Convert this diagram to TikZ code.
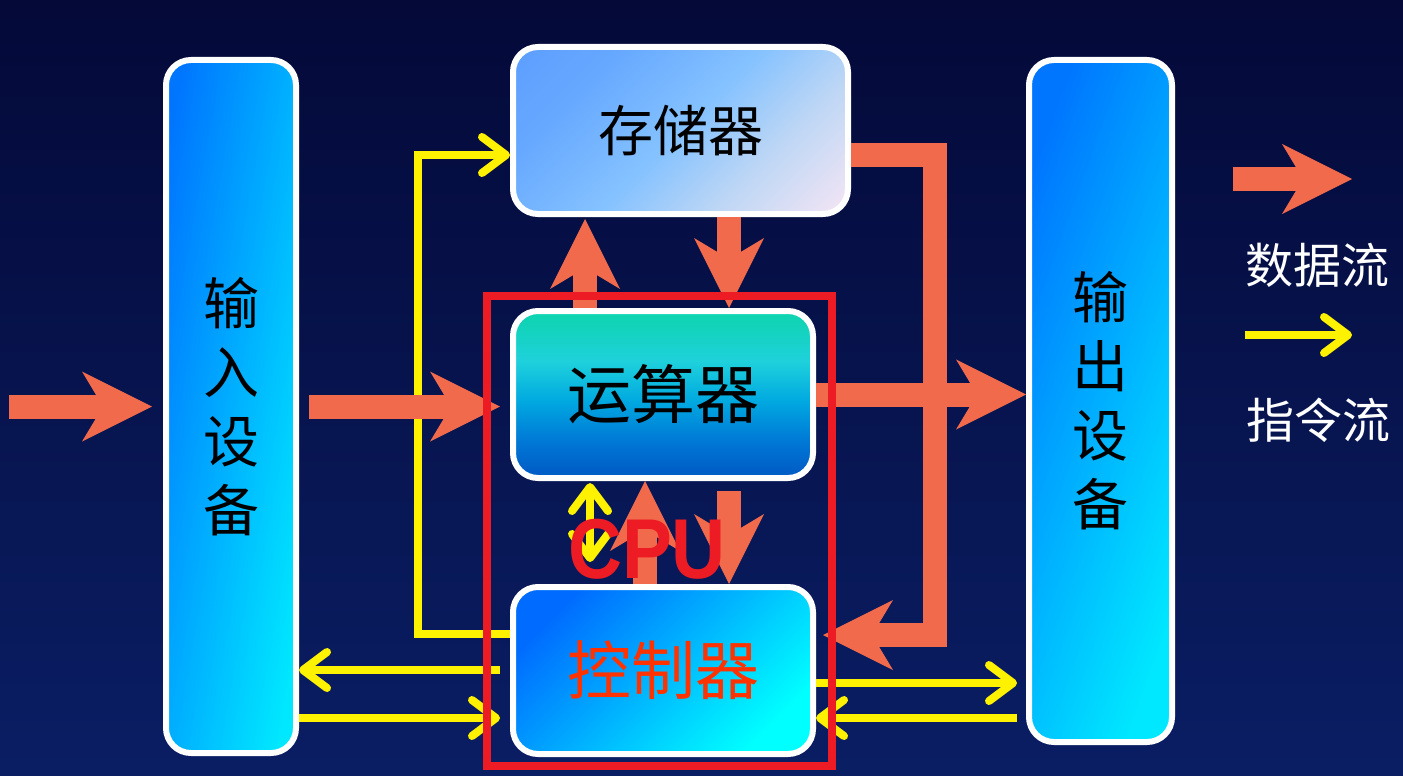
\documentclass[tikz,border=0pt]{standalone}
\usepackage{fontspec}
\usepackage{graphicx}
\newfontfamily\cjk{Noto Sans CJK SC}
\newfontfamily\lat{Liberation Sans}
\usetikzlibrary{arrows.meta}
\definecolor{bgtop}{RGB}{4,9,56}
\definecolor{bgbot}{RGB}{10,30,100}
\definecolor{dataor}{RGB}{242,106,76}
\definecolor{cpured}{RGB}{237,28,36}
\definecolor{ctltxt}{RGB}{255,51,0}
\definecolor{inL}{RGB}{0,118,255}
\definecolor{inR}{RGB}{0,232,255}
\definecolor{ctlA}{RGB}{0,108,255}
\definecolor{ctlB}{RGB}{0,255,255}
\pgfdeclareverticalshading{alushade}{100bp}{%
  rgb(0bp)=(0,0.35,0.78); rgb(27bp)=(0,0.37,0.78); rgb(36bp)=(0,0.47,0.84);
  rgb(48bp)=(0,0.66,0.88); rgb(60bp)=(0.12,0.82,0.86); rgb(73bp)=(0.06,0.83,0.70);
  rgb(100bp)=(0.05,0.83,0.70)}
\pgfdeclarehorizontalshading{memshade}{100bp}{%
  rgb(0bp)=(0.33,0.58,1); rgb(30bp)=(0.40,0.66,1); rgb(50bp)=(0.52,0.76,1);
  rgb(66bp)=(0.74,0.84,0.96); rgb(85bp)=(0.96,0.90,0.96); rgb(100bp)=(0.96,0.90,0.96)}
\tikzset{
  dhead/.tip={Stealth[length=70pt,width=70pt,inset=21pt,line width=0pt]},
  ybarb/.tip={Straight Barb[length=24pt,width=36pt,round]},
  box/.style={draw=white, line width=6pt, rounded corners=25pt, inner sep=0pt, align=center},
  data/.style={draw=dataor, line width=24pt, arrows={-dhead}},
  yel/.style={draw=yellow, line width=8pt},
  legtxt/.style={text=white, font=\cjk\fontsize{48}{58}\selectfont, inner sep=0pt}
}
\begin{document}
\begin{tikzpicture}[x=1pt,y=-1pt]
\useasboundingbox (0,0) rectangle (1403,776);
\shade[top color=bgtop, bottom color=bgbot] (0,0) rectangle (1403,776);

% boxes
\node[box, minimum width=130pt, minimum height=693pt, left color=inL, right color=inR, shading angle=80,
      font=\cjk\fontsize{56}{69}\selectfont] (in) at (231,406.5) {输\\入\\设\\备};
\node[box, minimum width=335pt, minimum height=167pt, shading=memshade, shading angle=-45,
      font=\cjk\fontsize{55}{66}\selectfont] (mem) at (680.5,130.5) {存储器};
\node[box, minimum width=300pt, minimum height=167pt, shading=alushade,
      font=\cjk\fontsize{64}{76}\selectfont] (alu) at (663,394.5) {运算器};
\node[box, minimum width=300pt, minimum height=167pt, left color=ctlA, right color=ctlB, shading angle=45,
      text=ctltxt, font=\cjk\fontsize{64}{76}\selectfont] (ctl) at (663,670.5) {控制器};
\node[box, minimum width=143pt, minimum height=682pt, left color=inL, right color=inR, shading angle=70,
      font=\cjk\fontsize{56}{69}\selectfont] (out) at (1100.5,401) {输\\出\\设\\备};

% helper coordinates
\coordinate (y1a) at (418,634);
\coordinate (y1b) at (418,155);
\coordinate (y670) at (0,670);
\coordinate (y683) at (0,683);
\coordinate (y718) at (0,718);
\coordinate (x590) at (590,0);
\coordinate (y6b) at (590,562);
\coordinate (x585) at (585,0);
\coordinate (x645) at (645,0);
\coordinate (x729) at (729,0);
\coordinate (c1) at (935,155);
\coordinate (c2) at (935,635);
\coordinate (a1s) at (9,406.5);
\coordinate (l1s) at (1233,179);
\coordinate (l1e) at (1352,179);
\coordinate (l2s) at (1245,335);
\coordinate (l2e) at (1352,335);

% instruction flow (yellow)
\draw[yel, arrows={-ybarb}] (ctl.west |- y1a) -- (y1a) -- (y1b) -- (mem.west |- y1b);
\draw[yel, arrows={-ybarb}, shorten <=10pt] (ctl.west |- y670) -- (in.east |- y670);
\draw[yel, arrows={-ybarb}, shorten >=10pt] (in.east |- y718) -- (ctl.west |- y718);
\draw[yel, arrows={-ybarb}, shorten >=9pt] (ctl.east |- y683) -- (out.west |- y683);
\draw[yel, arrows={-ybarb}, shorten <=9pt] (out.west |- y718) -- (ctl.east |- y718);
\draw[yel, arrows={ybarb-ybarb}, shorten <=2pt] (x590 |- alu.south) -- (y6b);

% data flow (orange)
\draw[data, shorten >=11pt] (a1s) -- (in.west);
\draw[data, shorten <=10pt, shorten >=10pt] (in.east) -- (alu.west |- in.east);
\draw[data, shorten >=2pt] (x585 |- alu.north) -- (x585 |- mem.south);
\draw[data] (x729 |- mem.south) -- (x729 |- alu.north);
\draw[data] (x645 |- ctl.north) -- (x645 |- alu.south);
\draw[data, shorten <=10pt] (x729 |- alu.south) -- (x729 |- ctl.north);
\draw[data] (alu.east) -- (out.west |- alu.east);
\draw[data, shorten >=7pt] (mem.east |- c1) -- (c1) -- (c2) -- (ctl.east |- c2);

% CPU frame
\node[draw=cpured, line width=8pt, minimum width=345pt, minimum height=470pt, inner sep=0pt] (cpu) at (659.5,531) {};
\node[text=cpured, font=\lat\bfseries\fontsize{85}{85}\selectfont, anchor=base, inner sep=0pt] (cputxt) at (647,578) {\scalebox{0.88}[1]{CPU}};

% legend
\draw[data] (l1s) -- (l1e);
\node[legtxt] (l1t) at (1317,265) {数据流};
\draw[yel, arrows={-ybarb}] (l2s) -- (l2e);
\node[legtxt] (l2t) at (1318,420) {指令流};
\end{tikzpicture}
\end{document}
